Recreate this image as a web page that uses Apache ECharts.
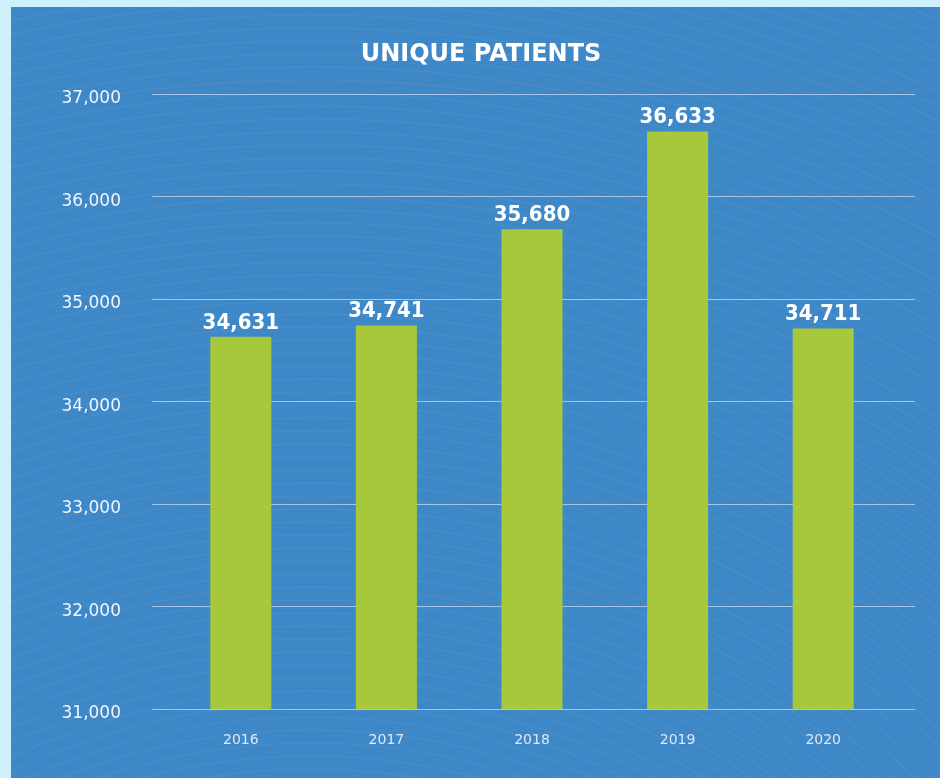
<!DOCTYPE html>
<html>
<head>
<meta charset="utf-8">
<script src="https://cdn.jsdelivr.net/npm/echarts@6/dist/echarts.min.js"></script>
<style>
    html, body { margin: 0; padding: 0; background: #cdf0fa; }
    #panel { position: absolute; left: 11px; top: 7px; width: 929px; height: 771px; background: #3f88c8; overflow: hidden; }
    #chart { width: 929px; height: 771px; }
</style>
</head>
<body>
<div id="panel"><div id="chart"></div></div>
<script>
// data
var years = ['2016', '2017', '2018', '2019', '2020'];
var patients = [34631, 34741, 35680, 36633, 34711];
var yTicks = [31000, 32000, 33000, 34000, 35000, 36000, 37000];

var myChart = echarts.init(document.getElementById('chart'));

var yMin = yTicks[0];
var yMax = yTicks[yTicks.length - 1];

// faint wavy lines in the background (decoration only)
var waves = [];
for (var i = 0; i < 80; i++) {
    waves.push({
        type: 'circle',
        shape: { cx: 300, cy: 1400, r: 560 + i * 13 },
        style: { fill: null, stroke: 'rgba(255,255,255,0.045)', lineWidth: 1.6 },
        silent: true,
        z: -10
    });
}

let option = {
    backgroundColor: 'transparent',
    graphic: waves,
    title: {
        text: 'UNIQUE PATIENTS',
        left: 465,
        top: 31,
        textAlign: 'center',
        textStyle: {
            color: '#ffffff',
            fontFamily: 'DejaVu Sans',
            fontWeight: 'bold',
            fontSize: 24
        }
    },
    grid: [
        // grid for the split lines and y labels
        { left: 141, right: 25, top: 87, bottom: 69 },
        // grid for the bars
        { left: 157, right: 44, top: 87, bottom: 69 }
    ],
    xAxis: [{
        gridIndex: 0,
        type: 'category',
        data: years,
        show: false
    }, {
        gridIndex: 1,
        type: 'category',
        data: years,
        axisLine: { show: false },
        axisTick: { show: false },
        axisLabel: {
            color: '#dfe6f5',
            fontFamily: 'DejaVu Sans',
            fontSize: 14,
            margin: 24
        }
    }],
    yAxis: [{
        gridIndex: 0,
        type: 'value',
        min: yMin,
        max: yMax,
        interval: 1000,
        axisLine: { show: false },
        axisTick: { show: false },
        axisLabel: {
            color: '#f2f5fb',
            fontFamily: 'DejaVu Sans',
            fontSize: 17,
            margin: 31,
            formatter: function (v) { return '{a|' + v.toLocaleString('en-US') + '}'; },
            rich: {
                a: {
                    color: '#f2f5fb',
                    fontFamily: 'DejaVu Sans',
                    fontSize: 17,
                    padding: [10, 0, 0, 0]
                }
            }
        },
        splitLine: {
            lineStyle: { color: '#a3c5e8', width: 1 }
        }
    }, {
        gridIndex: 1,
        type: 'value',
        min: yMin,
        max: yMax,
        interval: 1000,
        show: false,
        splitLine: { show: false }
    }],
    series: [{
        name: 'Unique Patients',
        type: 'bar',
        xAxisIndex: 1,
        yAxisIndex: 1,
        barWidth: 61,
        data: patients,
        itemStyle: { color: '#a6c83a' },
        label: {
            show: true,
            position: 'top',
            distance: 3,
            color: '#ffffff',
            fontFamily: 'DejaVu Sans Condensed',
            fontWeight: 'bold',
            fontSize: 22,
            formatter: function (p) { return p.value.toLocaleString('en-US'); }
        }
    }]
};

myChart.setOption(option);
</script>
</body>
</html>
